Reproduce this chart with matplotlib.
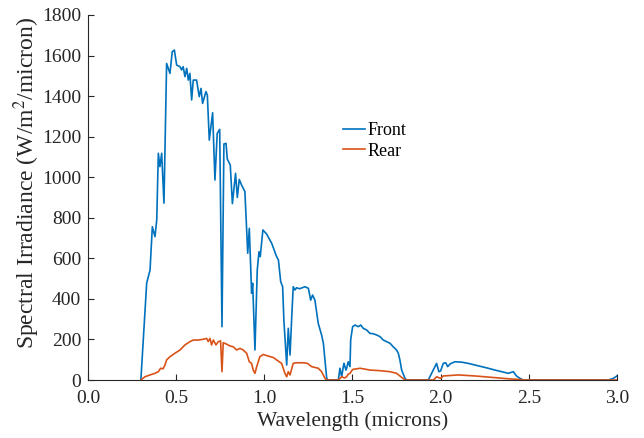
import numpy as np
import matplotlib
matplotlib.use("Agg")
import matplotlib.pyplot as plt

plt.rcParams['font.family'] = ['Liberation Serif', 'DejaVu Serif']
plt.rcParams['mathtext.fontset'] = 'stix'

# front side irradiance
front_wl = [0.30, 0.333, 0.352, 0.365, 0.38, 0.39, 0.399, 0.408, 0.418, 0.431,
            0.446, 0.465, 0.478, 0.49, 0.503, 0.522, 0.531, 0.54, 0.55, 0.56,
            0.569, 0.578, 0.588, 0.597, 0.616, 0.631, 0.641, 0.65, 0.669, 0.677,
            0.688, 0.707, 0.72, 0.733, 0.747, 0.76, 0.771, 0.783, 0.79, 0.807,
            0.819, 0.837, 0.847, 0.858, 0.872, 0.89, 0.906, 0.915, 0.928, 0.934,
            0.947, 0.96, 0.97, 0.977, 0.992, 1.013, 1.042, 1.07, 1.08, 1.093,
            1.104, 1.111, 1.127, 1.136, 1.146, 1.155, 1.164, 1.174, 1.183, 1.2,
            1.231, 1.25, 1.263, 1.274, 1.287, 1.306, 1.325, 1.335, 1.354, 1.36,
            1.42, 1.429, 1.439, 1.448, 1.452, 1.463, 1.467, 1.476, 1.486, 1.49,
            1.501, 1.514, 1.533, 1.547, 1.561, 1.58, 1.599, 1.618, 1.637, 1.656,
            1.675, 1.694, 1.713, 1.731, 1.75, 1.76, 1.769, 1.779, 1.798, 1.807,
            1.93, 1.949, 1.958, 1.977, 1.99, 2.0, 2.015, 2.029, 2.04, 2.055,
            2.081, 2.12, 2.157, 2.195, 2.233, 2.27, 2.308, 2.346, 2.384, 2.412,
            2.43, 2.45, 2.469, 2.95, 2.98, 3.0]
front_val = [0, 478, 542, 756, 707, 789, 1118, 1052, 1118, 872,
             1561, 1512, 1619, 1627, 1553, 1545, 1529, 1545, 1496, 1537,
             1479, 1512, 1381, 1479, 1479, 1397, 1438, 1364, 1422, 1405,
             1183, 1318, 986, 1216, 1236, 263, 1164, 1167, 1090, 1060,
             870, 1019, 900, 989, 960, 929, 625, 748, 428, 477,
             148, 542, 633, 608, 740, 720, 674, 608, 592, 485,
             460, 296, 74, 255, 123, 300, 460, 444, 455, 450,
             460, 452, 394, 419, 394, 279, 222, 181, 8, 0,
             0, 58, 16, 66, 82, 49, 58, 90, 66, 200,
             263, 271, 263, 271, 255, 247, 230, 228, 222, 214,
             197, 189, 181, 164, 148, 132, 99, 49, 8, 0,
             0, 33, 49, 82, 41, 45, 82, 85, 66, 80,
             90, 88, 82, 74, 66, 58, 49, 41, 33, 41,
             20, 8, 0, 0, 8, 20]

# rear side irradiance
rear_wl = [0.30, 0.323, 0.352, 0.38, 0.399, 0.412, 0.425, 0.437, 0.446, 0.465,
           0.493, 0.522, 0.55, 0.578, 0.597, 0.626, 0.654, 0.673, 0.682, 0.692,
           0.701, 0.711, 0.726, 0.739, 0.752, 0.76, 0.767, 0.786, 0.805, 0.824,
           0.843, 0.862, 0.88, 0.9, 0.915, 0.928, 0.937, 0.947, 0.957, 0.975,
           0.994, 1.022, 1.051, 1.07, 1.098, 1.117, 1.127, 1.136, 1.146, 1.164,
           1.183, 1.221, 1.245, 1.268, 1.306, 1.325, 1.344, 1.354, 1.42, 1.439,
           1.455, 1.467, 1.476, 1.486, 1.501, 1.543, 1.6, 1.656, 1.713, 1.75,
           1.769, 1.798, 1.96, 1.977, 2.0, 2.015, 2.05, 2.1, 2.195, 2.29,
           2.384, 2.44, 2.48, 3.0]
rear_val = [0, 16, 25, 33, 41, 58, 55, 74, 99, 115,
            132, 148, 173, 189, 197, 197, 201, 205, 190, 205,
            173, 197, 173, 189, 193, 41, 184, 177, 168, 164,
            148, 156, 148, 132, 90, 82, 49, 33, 66, 115,
            126, 118, 111, 99, 82, 33, 16, 41, 25, 82,
            85, 85, 82, 66, 58, 41, 8, 0, 0, 16,
            10, 16, 29, 33, 52, 58, 49, 46, 41, 33,
            20, 0, 0, 16, 8, 20, 22, 25, 20, 13,
            6, 3, 0, 0]

xticks = [0.0, 0.5, 1.0, 1.5, 2.0, 2.5, 3.0]
yticks = [0, 200, 400, 600, 800, 1000, 1200, 1400, 1600, 1800]

fig = plt.figure(figsize=(6.44, 4.38), dpi=100)
ax = fig.add_axes([0.1366, 0.1324, 0.8214, 0.8334])

ax.plot(front_wl, front_val, color='#0072BD', lw=1.2, label='Front')
ax.plot(rear_wl, rear_val, color='#D95319', lw=1.2, label='Rear')

ax.set_xlim(0, 3)
ax.set_ylim(0, 1800)
ax.set_xticks(xticks)
ax.set_xticklabels(['%.1f' % v for v in xticks])
ax.set_yticks(yticks)

for s in ['top', 'right']:
    ax.spines[s].set_visible(False)
for s in ['left', 'bottom']:
    ax.spines[s].set_color('#262626')
    ax.spines[s].set_linewidth(0.8)
ax.tick_params(direction='in', length=4, width=0.8, colors='#262626',
               labelsize=14)
ax.tick_params(axis='x', pad=7)
ax.tick_params(axis='y', pad=5)

ax.set_xlabel('Wavelength (microns)', fontsize=15.5, color='#262626', labelpad=3)
ax.set_ylabel(r'Spectral Irradiance (W/m$^2$/micron)', fontsize=17,
              color='#262626')
ax.yaxis.set_label_coords(-0.086, 0.54)

ax.legend(loc='upper left', bbox_to_anchor=(0.519, 0.742),
          bbox_transform=fig.transFigure, frameon=False, fontsize=13,
          handlelength=1.2, handletextpad=0.15, borderpad=0,
          labelspacing=0.2)

fig.savefig('out.png', dpi=100)
